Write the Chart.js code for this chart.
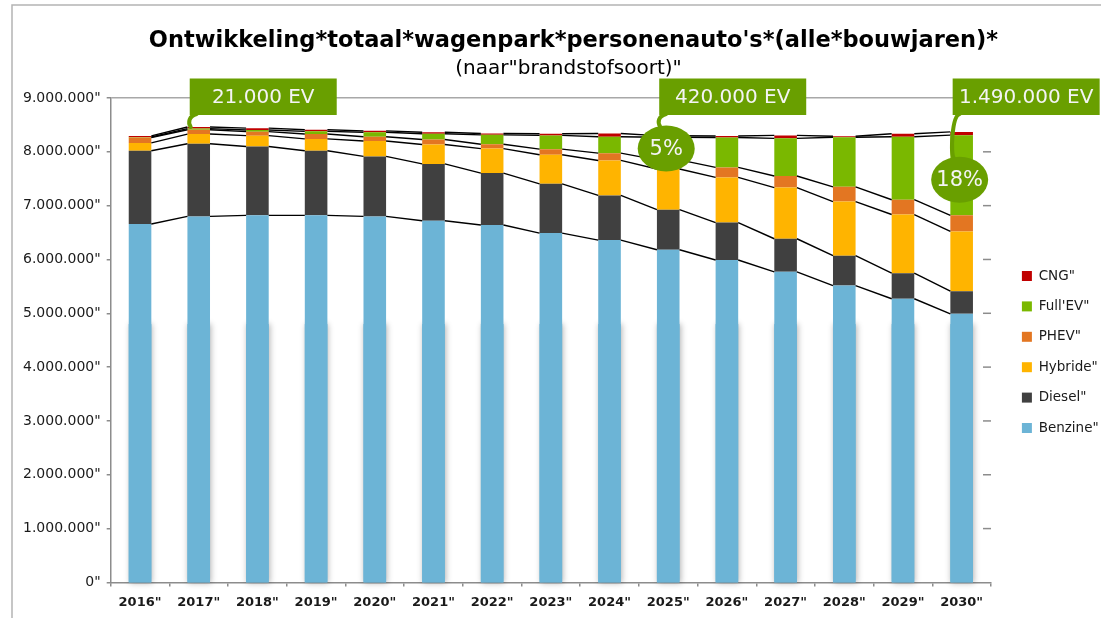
<!DOCTYPE html>
<html>
<head>
<meta charset="utf-8">
<script src="https://cdn.jsdelivr.net/npm/chart.js@4.4.1/dist/chart.umd.min.js"></script>
<style>
  html, body { margin: 0; padding: 0; background: #fff; }
  #wrap { width: 1101px; height: 618px; }
</style>
</head>
<body>
<div id="wrap"><canvas id="fleet"></canvas></div>
<script>
const years = ['2016"', '2017"', '2018"', '2019"', '2020"', '2021"', '2022"', '2023"',
    '2024"', '2025"', '2026"', '2027"', '2028"', '2029"', '2030"'];

const benzine = [6660000, 6800000, 6820000, 6820000, 6800000, 6720000, 6640000, 6490000,
    6360000, 6180000, 5990000, 5770000, 5515000, 5270000, 4990000];
const diesel = [1360000, 1350000, 1280000, 1200000, 1115000, 1055000, 965000, 915000,
    830000, 745000, 695000, 615000, 555000, 475000, 420000];
const hybride = [145000, 180000, 200000, 220000, 285000, 360000, 455000, 540000,
    650000, 755000, 840000, 950000, 1005000, 1090000, 1110000];
const phev = [100000, 80000, 75000, 90000, 80000, 95000, 80000, 105000,
    135000, 170000, 185000, 215000, 275000, 275000, 300000];
const fullEv = [10000, 21000, 30000, 50000, 85000, 105000, 175000, 255000,
    305000, 420000, 555000, 700000, 920000, 1170000, 1490000];
const cng = [20000, 30000, 35000, 30000, 25000, 30000, 25000, 30000,
    60000, 30000, 30000, 55000, 20000, 55000, 60000];

const yTickLabels = ['0"', '1.000.000"', '2.000.000"', '3.000.000"', '4.000.000"',
    '5.000.000"', '6.000.000"', '7.000.000"', '8.000.000"', '9.000.000"'];

const calloutYears = [1, 9, 14];
const calloutTexts = ['21.000 EV', '420.000 EV', '1.490.000 EV'];
const bubbleYears = [9, 14];
const bubbleTexts = ['5%', '18%'];

const titleText = "Ontwikkeling*totaal*wagenpark*personenauto's*(alle*bouwjaren)*";
const subtitleText = '(naar"brandstofsoort)"';

const FONT = '"DejaVu Sans", sans-serif';
const GREEN = '#699f00';
Chart.defaults.font.family = FONT;

// frame + title, drawn by hand so the title can sit a bit right of centre like the original
const headerPlugin = {
    id: 'header',
    beforeDraw(chart) {
        const c = chart.ctx;
        c.save();
        c.fillStyle = '#fff';
        c.fillRect(0, 0, chart.width, chart.height);
        c.strokeStyle = '#b4b4b4';
        c.lineWidth = 1.5;
        c.beginPath();
        c.moveTo(12, chart.height);
        c.lineTo(12, 5);
        c.lineTo(chart.width, 5);
        c.stroke();
        c.fillStyle = '#000';
        c.textAlign = 'center';
        c.font = 'bold 22.5px ' + FONT;
        c.fillText(titleText, chart.width / 2 + 23, 47);
        c.font = '20px ' + FONT;
        c.fillText(subtitleText, chart.width / 2 + 18, 74);
        c.restore();
    }
};

// legend sits a little higher than chart.js centres it
const legendNudge = {
    id: 'legendNudge',
    afterLayout(chart, args, opts) {
        chart.legend.top += opts.dy;
        chart.legend.bottom += opts.dy;
    }
};

// Excel style blurred edge on the lower part of the bars
const shadowPlugin = {
    id: 'barShadow',
    beforeDatasetsDraw(chart, args, opts) {
        const c = chart.ctx;
        const ys = chart.scales.y;
        const meta = chart.getDatasetMeta(0);
        c.save();
        c.shadowColor = 'rgba(0,0,0,0.3)';
        c.shadowBlur = 6;
        c.shadowOffsetX = 1;
        c.fillStyle = '#6cb4d6';
        meta.data.forEach(el => {
            const top = ys.getPixelForValue(opts.from);
            c.fillRect(el.x - el.width / 2, top, el.width, el.base - top + 1);
        });
        c.restore();
    }
};

// series lines between the stacks + the small inner ticks on the right
const seriesLinesPlugin = {
    id: 'seriesLines',
    afterDatasetsDraw(chart) {
        const c = chart.ctx;
        c.save();
        c.strokeStyle = '#000';
        c.lineWidth = 1.4;
        chart.data.datasets.forEach((ds, d) => {
            const pts = chart.getDatasetMeta(d).data;
            for (let i = 0; i < pts.length - 1; i++) {
                const a = pts[i], b = pts[i + 1];
                c.beginPath();
                c.moveTo(a.x + a.width / 2, a.y);
                c.lineTo(b.x - b.width / 2, b.y);
                c.stroke();
            }
        });
        const ys = chart.scales.y;
        const right = chart.chartArea.right;
        c.strokeStyle = '#8c8c8c';
        c.lineWidth = 1.5;
        ys.ticks.forEach(t => {
            if (t.value === 0 || t.value === ys.max) return;
            const y = ys.getPixelForValue(t.value);
            c.beginPath();
            c.moveTo(right - 8, y);
            c.lineTo(right, y);
            c.stroke();
        });
        c.restore();
    }
};

const calloutPlugin = {
    id: 'callouts',
    afterDraw(chart, args, opts) {
        const c = chart.ctx;
        const xs = chart.scales.x;
        const ys = chart.scales.y;
        const topMeta = chart.getDatasetMeta(chart.data.datasets.length - 1);
        c.save();
        c.fillStyle = GREEN;
        c.strokeStyle = GREEN;
        c.lineWidth = 4;
        c.lineCap = 'round';

        const bubbles = {};
        bubbleYears.forEach((idx, k) => {
            bubbles[idx] = {
                x: xs.getPixelForValue(idx) - 2,
                y: ys.getPixelForValue(opts.bubbleAt[k]),
                text: bubbleTexts[k]
            };
        });

        calloutYears.forEach((idx, k) => {
            const cx = xs.getPixelForValue(idx);
            const bx = cx - 9;
            const by = chart.chartArea.top - 19.5;
            const bh = 36.5;
            const bw = 147;
            let target = topMeta.data[idx].y;
            const bub = bubbles[idx];
            if (bub && bub.y - opts.bubbleRy < target + 30) {
                target = bub.y - opts.bubbleRy + 1;
            }
            c.beginPath();
            c.moveTo(bx + 7, by + bh - 1);
            c.bezierCurveTo(bx - 1, by + bh + 1, bx - 2, target - 4, bx + 1, target);
            c.stroke();
            c.fillRect(bx, by, bw, bh);
            c.fillStyle = '#f4f4f4';
            c.font = '20px ' + FONT;
            c.textAlign = 'center';
            c.textBaseline = 'middle';
            c.fillText(calloutTexts[k], bx + bw / 2, by + bh / 2 + 1);
            c.fillStyle = GREEN;
        });

        Object.values(bubbles).forEach(b => {
            c.fillStyle = GREEN;
            c.beginPath();
            c.ellipse(b.x, b.y, opts.bubbleRx, opts.bubbleRy, 0, 0, Math.PI * 2);
            c.fill();
            c.fillStyle = '#f4f4f4';
            c.font = '21px ' + FONT;
            c.textAlign = 'center';
            c.textBaseline = 'middle';
            c.fillText(b.text, b.x, b.y + 1);
        });
        c.restore();
    }
};

function makeSet(label, data, color) {
    return {
        label: label,
        data: data,
        backgroundColor: color,
        borderWidth: 0,
        barPercentage: 0.385,
        categoryPercentage: 1,
    };
}

const ctx = document.getElementById('fleet').getContext('2d');
const fleetChart = new Chart(ctx, {
    type: 'bar',
    data: {
        labels: years,
        datasets: [
            makeSet('Benzine"', benzine, '#6cb4d6'),
            makeSet('Diesel"', diesel, '#404040'),
            makeSet('Hybride"', hybride, '#ffb400'),
            makeSet('PHEV"', phev, '#e37622'),
            makeSet("Full'EV\"", fullEv, '#7ab800'),
            makeSet('CNG"', cng, '#c00000'),
        ]
    },
    options: {
        responsive: true,
        maintainAspectRatio: false,
        animation: false,
        layout: { padding: { top: 98, left: 17, right: 0, bottom: 0 } },
        scales: {
            x: {
                stacked: true,
                grid: { drawOnChartArea: false, tickLength: 4, color: '#8c8c8c', lineWidth: 1.5 },
                border: { color: '#8c8c8c', width: 1.5 },
                ticks: { color: '#1a1a1a', font: { size: 13, weight: 'bold' }, padding: 8, maxRotation: 0, autoSkip: false },
            },
            y: {
                stacked: true,
                min: 0,
                max: 9000000,
                ticks: {
                    stepSize: 1000000,
                    color: '#1a1a1a',
                    font: { size: 14 },
                    padding: 6,
                    callback: (v, i) => yTickLabels[i],
                },
                grid: {
                    color: c => (c.tick && c.tick.value === 9000000) ? '#a8a8a8' : 'rgba(0,0,0,0)',
                    tickColor: '#8c8c8c',
                    tickLength: 4,
                    lineWidth: 1.5,
                },
                border: { color: '#8c8c8c', width: 1.5 },
            },
            // empty axis, only keeps a gap between the plot and the legend
            gap: {
                position: 'right',
                display: true,
                grid: { display: false },
                ticks: { display: false },
                border: { display: false },
                afterFit: s => { s.width = 14; },
            },
        },
        plugins: {
            legend: {
                position: 'right',
                reverse: true,
                maxWidth: 96,
                labels: {
                    boxWidth: 10,
                    boxHeight: 10,
                    padding: 16.9,
                    color: '#1a1a1a',
                    font: { size: 13.5 },
                },
            },
            title: { display: false },
            tooltip: { enabled: false },
            legendNudge: { dy: -6 },
            barShadow: { from: 4800000 },
            callouts: { bubbleAt: [8060000, 7480000], bubbleRx: 28.5, bubbleRy: 23 },
        },
    },
    plugins: [headerPlugin, legendNudge, shadowPlugin, seriesLinesPlugin, calloutPlugin],
});
</script>
</body>
</html>
